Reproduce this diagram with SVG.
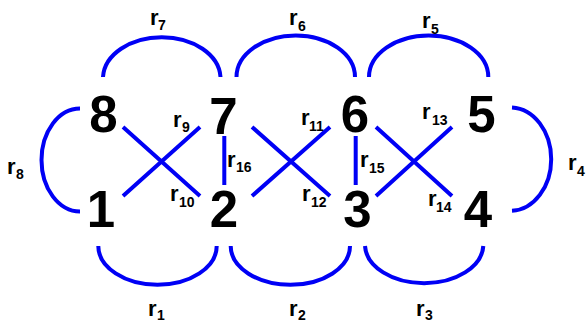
<svg xmlns="http://www.w3.org/2000/svg" width="586" height="323" viewBox="0 0 586 323">
<style>
.e{fill:none;stroke:#0000f5;stroke-width:4}
.n{font-family:"Liberation Sans",Arial,sans-serif;font-weight:bold;font-size:51px;fill:#000;text-anchor:middle}
.r{font-family:"Liberation Sans",Arial,sans-serif;font-weight:bold;font-size:22px;fill:#000}
.s{font-size:14px}
</style>
<rect width="586" height="323" fill="#fff"/>
<g id="connectors">
<path class="e" d="M103,77 A58.8,41.5 0 0 1 220.5,77"/>
<path class="e" d="M236.5,77 A59.2,41.5 0 0 1 355,77"/>
<path class="e" d="M369,77 A59.6,41.5 0 0 1 488.3,77"/>
<path class="e" d="M80,108.5 A38.5,51.5 0 0 0 80,211.5"/>
<path class="e" d="M512,107.5 A41,51.7 0 0 1 512,210.8"/>
<path class="e" d="M98.3,246 A59.2,38.8 0 0 0 216.7,246"/>
<path class="e" d="M230.7,246 A59.6,38.8 0 0 0 350,246"/>
<path class="e" d="M365,246 A59.2,38.8 0 0 0 483.3,246"/>
<path class="e" d="M123,127 L200,196 M200,127 L123,196"/>
<path class="e" d="M252,127 L330,196 M330,127 L252,196"/>
<path class="e" d="M376,127 L452,196 M452,127 L376,196"/>
<path class="e" d="M224.3,136 V185 M355.7,136 V185"/>
</g>
<g id="labels">
<text class="r"><tspan x="150" y="25">r</tspan><tspan class="s" x="158" y="30">7</tspan></text>
<text class="r"><tspan x="289" y="25">r</tspan><tspan class="s" x="298" y="31">6</tspan></text>
<text class="r"><tspan x="422" y="28">r</tspan><tspan class="s" x="431" y="34">5</tspan></text>
<text class="r"><tspan x="7" y="174">r</tspan><tspan class="s" x="16" y="179">8</tspan></text>
<text class="r"><tspan x="568" y="170">r</tspan><tspan class="s" x="577" y="176">4</tspan></text>
<text class="r"><tspan x="173" y="127">r</tspan><tspan class="s" x="182" y="132">9</tspan></text>
<text class="r"><tspan x="170" y="201">r</tspan><tspan class="s" x="179" y="207">10</tspan></text>
<text class="r"><tspan x="227" y="167">r</tspan><tspan class="s" x="236" y="172">16</tspan></text>
<text class="r"><tspan x="301" y="125">r</tspan><tspan class="s" x="309" y="131">11</tspan></text>
<text class="r"><tspan x="302" y="201">r</tspan><tspan class="s" x="311" y="207">12</tspan></text>
<text class="r"><tspan x="360" y="167">r</tspan><tspan class="s" x="369" y="173">15</tspan></text>
<text class="r"><tspan x="422" y="119">r</tspan><tspan class="s" x="432" y="125">13</tspan></text>
<text class="r"><tspan x="428" y="206">r</tspan><tspan class="s" x="436" y="212">14</tspan></text>
<text class="r"><tspan x="148" y="316">r</tspan><tspan class="s" x="157" y="320">1</tspan></text>
<text class="r"><tspan x="289" y="316">r</tspan><tspan class="s" x="298" y="320">2</tspan></text>
<text class="r"><tspan x="416" y="316">r</tspan><tspan class="s" x="425" y="320">3</tspan></text>
</g>
<g id="node8"><text class="n" x="103.5" y="132">8</text></g>
<g id="node7"><text class="n" x="223.5" y="134">7</text></g>
<g id="node6"><text class="n" x="355" y="132">6</text></g>
<g id="node5"><text class="n" x="481.5" y="132">5</text></g>
<g id="node1"><text class="n" x="101" y="227">1</text></g>
<g id="node2"><text class="n" x="224" y="227">2</text></g>
<g id="node3"><text class="n" x="357.5" y="227">3</text></g>
<g id="node4"><text class="n" x="478" y="227">4</text></g>
</svg>
